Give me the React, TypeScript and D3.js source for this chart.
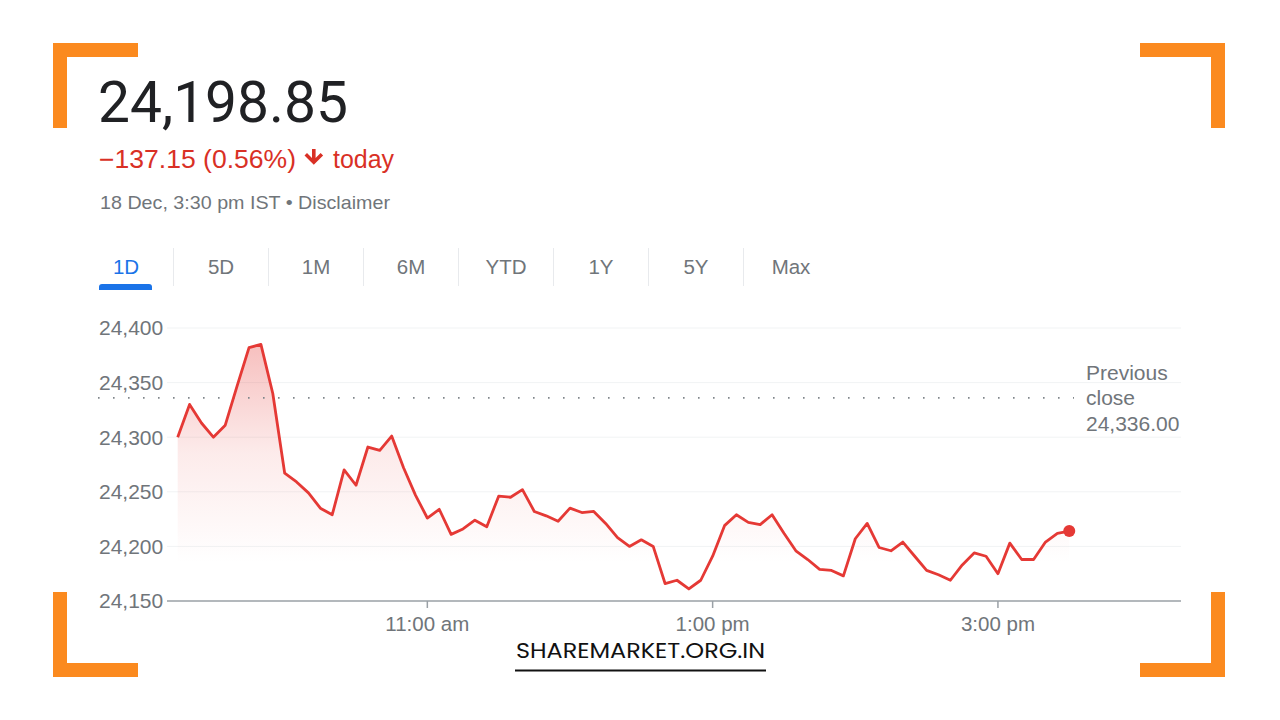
import React from "react";
import * as d3 from "d3";

// ---- data ----
const PRICE = "24,198.85";
const CHANGE = "\u2212137.15 (0.56%)";
const SESSION_LABEL = "today";
const DATE_LINE = "18 Dec, 3:30 pm IST \u2022 Disclaimer";
const RANGE_TABS = ["1D", "5D", "1M", "6M", "YTD", "1Y", "5Y", "Max"];
const Y_TICKS = [24150, 24200, 24250, 24300, 24350, 24400];
const X_TICK_HOURS = [11, 13, 15];
const PREVIOUS_CLOSE = 24336.0;
const SESSION_START = { h: 9, m: 15 };
const INTERVAL_MIN = 5;
const VALUES = [
  24300, 24330, 24313, 24300, 24311, 24347, 24382, 24385, 24340, 24267,
  24259, 24249, 24235, 24229, 24270, 24256, 24291, 24288, 24301, 24272,
  24247, 24226, 24234, 24211, 24216, 24224, 24218, 24246, 24245, 24252,
  24232, 24228, 24223, 24235, 24231, 24232, 24221, 24208, 24200, 24206,
  24200, 24166, 24169, 24161, 24169, 24191, 24219, 24229, 24222, 24220,
  24229, 24212, 24196, 24188, 24179, 24178, 24173, 24207, 24221, 24199,
  24196, 24204, 24191, 24178, 24174, 24169, 24183, 24194, 24191, 24175,
  24203, 24188, 24188, 24204, 24212, 24214,
];
const WATERMARK = "SHAREMARKET.ORG.IN";

const SMALL_FONT = "'Liberation Sans', Arial, Helvetica, sans-serif";
const BIG_FONT = "Roboto, 'Liberation Sans', Arial, sans-serif";
const GRAY = "#70757a";
const RED_TEXT = "#d93025";
const RED_LINE = "#e53935";
const ORANGE = "#fb8a1f";

const day = (h: number, m: number, s = 0) => new Date(2024, 11, 18, h, m, s);

export default function App() {
  const x = d3
    .scaleTime()
    .domain([day(9, 10, 30), day(16, 17, 0)])
    .range([167, 1181]);
  const y = d3.scaleLinear().domain([24150, 24400]).range([601, 328]);

  const data = VALUES.map((v, i) => ({
    t: day(SESSION_START.h, SESSION_START.m + i * INTERVAL_MIN),
    v,
  }));

  const line = d3
    .line<{ t: Date; v: number }>()
    .x((d) => x(d.t))
    .y((d) => y(d.v));
  const area = d3
    .area<{ t: Date; v: number }>()
    .x((d) => x(d.t))
    .y0(y(24150))
    .y1((d) => y(d.v));

  const last = data[data.length - 1];
  const fmt = d3.format(",");
  const tfmt = (d: Date) => d3.timeFormat("%-I:%M %p")(d).toLowerCase();
  const [x0, x1] = x.range();

  const tabStart = 126;
  const tabStep = 95;

  const bracket = (cx: number, cy: number, sx: number, sy: number, key: string) => {
    const L = 85;
    const T = 14;
    const hx = sx > 0 ? cx : cx - L;
    const hy = sy > 0 ? cy : cy - T;
    const vx = sx > 0 ? cx : cx - T;
    const vy = sy > 0 ? cy : cy - L;
    return (
      <g key={key} fill={ORANGE}>
        <rect x={hx} y={hy} width={L} height={T} />
        <rect x={vx} y={vy} width={T} height={L} />
      </g>
    );
  };

  return (
    <svg
      width={1280}
      height={720}
      style={{ position: "absolute", left: 0, top: 0, background: "#fff" }}
    >
      <defs>
        <linearGradient
          id="areaGrad"
          gradientUnits="userSpaceOnUse"
          x1={0}
          x2={0}
          y1={y(24385)}
          y2={y(24185)}
        >
          <stop offset="0%" stopColor={RED_LINE} stopOpacity={0.32} />
          <stop offset="50%" stopColor={RED_LINE} stopOpacity={0.1} />
          <stop offset="100%" stopColor={RED_LINE} stopOpacity={0} />
        </linearGradient>
      </defs>
      <rect x={0} y={0} width={1280} height={720} fill="#fff" />

      {/* corner brackets */}
      {bracket(53, 43, 1, 1, "tl")}
      {bracket(1225, 43, -1, 1, "tr")}
      {bracket(53, 677, 1, -1, "bl")}
      {bracket(1225, 677, -1, -1, "br")}

      {/* header */}
      <text x={98} y={122} fontFamily={BIG_FONT} fontSize={57} fill="#202124" textLength={250} lengthAdjust="spacingAndGlyphs">
        {PRICE}
      </text>
      <text x={99} y={168} fontFamily={SMALL_FONT} fontSize={25.5} fill={RED_TEXT} textLength={197} lengthAdjust="spacingAndGlyphs">
        {CHANGE}
      </text>
      <path
        d="M312,149 h3.6 v9 l5,-5 l2.5,2.5 l-9.3,9.3 l-9.3,-9.3 l2.5,-2.5 l5,5 z"
        fill={RED_TEXT}
      />
      <text x={333} y={168} fontFamily={SMALL_FONT} fontSize={25.5} fill={RED_TEXT} textLength={61} lengthAdjust="spacingAndGlyphs">
        {SESSION_LABEL}
      </text>
      <text x={100} y={209} fontFamily={SMALL_FONT} fontSize={19} fill={GRAY} textLength={290} lengthAdjust="spacingAndGlyphs">
        {DATE_LINE}
      </text>

      {/* range tabs */}
      {RANGE_TABS.map((t, i) => {
        const cx = tabStart + i * tabStep;
        return (
          <g key={t}>
            <text
              x={cx}
              y={274}
              textAnchor="middle"
              fontFamily={SMALL_FONT}
              fontSize={20.5}
              fill={i === 0 ? "#1a73e8" : GRAY}
            >
              {t}
            </text>
            {i < RANGE_TABS.length - 1 && (
              <line
                x1={cx + tabStep / 2}
                x2={cx + tabStep / 2}
                y1={248}
                y2={286}
                stroke="#e8eaed"
                strokeWidth={1}
              />
            )}
          </g>
        );
      })}
      <path d="M99,290 v-3 a3,3 0 0 1 3,-3 h47 a3,3 0 0 1 3,3 v3 z" fill="#1a73e8" />

      {/* grid */}
      {Y_TICKS.filter((v) => v !== 24150).map((v) => (
        <line key={v} x1={x0} x2={x1} y1={y(v)} y2={y(v)} stroke="#f1f3f4" strokeWidth={1} />
      ))}
      {Y_TICKS.map((v) => (
        <text
          key={"l" + v}
          x={99}
          y={y(v)}
          dy="0.35em"
          fontFamily={SMALL_FONT}
          fontSize={21}
          fill={GRAY}
        >
          {fmt(v)}
        </text>
      ))}

      {/* area */}
      <path d={area(data) || ""} fill="url(#areaGrad)" />

      {/* previous close */}
      <line
        x1={98}
        x2={1074}
        y1={y(PREVIOUS_CLOSE)}
        y2={y(PREVIOUS_CLOSE)}
        stroke="#80868b"
        strokeWidth={1.6}
        strokeDasharray="1.6 13.4"
      />
      <g fontFamily={SMALL_FONT} fontSize={21} fill={GRAY}>
        <text x={1086} y={380}>Previous</text>
        <text x={1086} y={405}>close</text>
        <text x={1086} y={431}>{d3.format(",.2f")(PREVIOUS_CLOSE)}</text>
      </g>

      <path d={line(data) || ""} fill="none" stroke={RED_LINE} strokeWidth={2.8} strokeLinejoin="round" />
      <circle cx={x(last.t)} cy={y(last.v)} r={6} fill={RED_LINE} />

      {/* x axis */}
      <line x1={x0} x2={x1} y1={y(24150)} y2={y(24150)} stroke="#9aa0a6" strokeWidth={1.5} />
      {X_TICK_HOURS.map((h) => {
        const d = day(h, 0);
        return (
          <g key={h}>
            <line x1={x(d)} x2={x(d)} y1={601} y2={608} stroke="#9aa0a6" strokeWidth={1.5} />
            <text x={x(d)} y={631} textAnchor="middle" fontFamily={SMALL_FONT} fontSize={20.5} fill={GRAY}>
              {tfmt(d)}
            </text>
          </g>
        );
      })}

      {/* watermark */}
      <text x={516} y={658} fontFamily="Poppins, Lato, 'Open Sans', sans-serif" fontSize={22} fill="#111" textLength={249} lengthAdjust="spacingAndGlyphs">
        {WATERMARK}
      </text>
      <line x1={515} x2={766} y1={670.5} y2={670.5} stroke="#111" strokeWidth={2} />
    </svg>
  );
}
